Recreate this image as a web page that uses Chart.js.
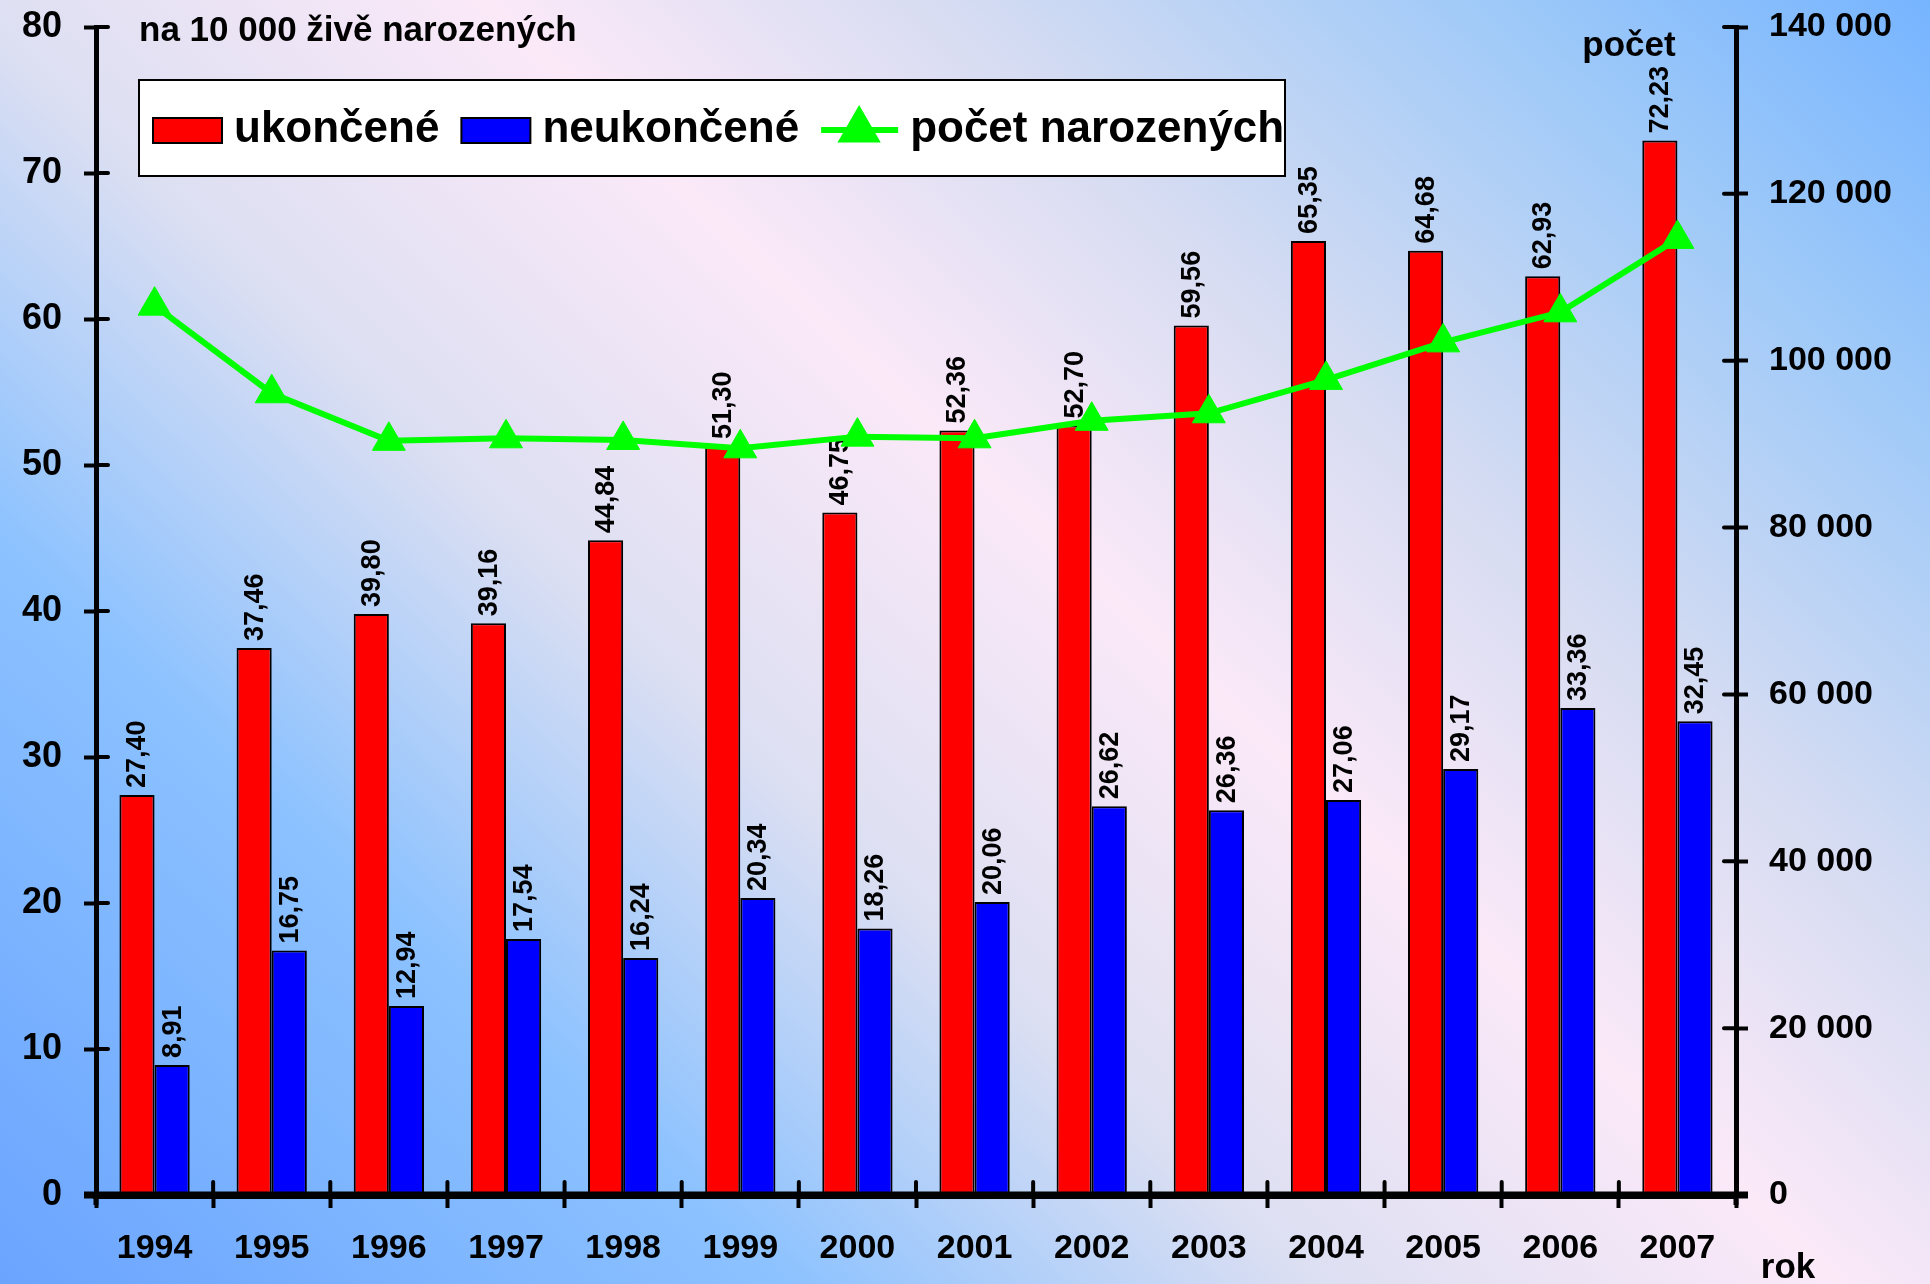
<!DOCTYPE html>
<html>
<head>
<meta charset="utf-8">
<script src="https://cdn.jsdelivr.net/npm/chart.js@4.4.0/dist/chart.umd.min.js"></script>
<style>
html,body{margin:0;padding:0;background:#fff;}
canvas{display:block;}
</style>
</head>
<body>
<canvas id="c" width="1930" height="1284"></canvas>
<script>
// ---- data ----
const years = ['1994','1995','1996','1997','1998','1999','2000','2001','2002','2003','2004','2005','2006','2007'];
const ukoncene = [27.40,37.46,39.80,39.16,44.84,51.30,46.75,52.36,52.70,59.56,65.35,64.68,62.93,72.23];
const neukoncene = [8.91,16.75,12.94,17.54,16.24,20.34,18.26,20.06,26.62,26.36,27.06,29.17,33.36,32.45];
const pocetNarozenych = [106600,96100,90400,90700,90500,89500,90900,90700,92800,93700,97700,102200,105800,114600];
const seriesLabels = ['ukončené','neukončené','počet narozených'];
const leftAxisMax = 80, leftAxisStep = 10;
const rightAxisMax = 140000, rightAxisStep = 20000;
const leftAxisTitle = 'na 10 000 živě narozených';
const rightAxisTitle = 'počet';
const xAxisTitle = 'rok';

const FONT = '"Liberation Sans", Arial, sans-serif';
Chart.defaults.font.family = FONT;
Chart.defaults.color = '#000';

const fmtThousands = v => String(v).replace(/\B(?=(\d{3})+(?!\d))/g, ' ');
const fmtDec = v => v.toFixed(2).replace('.', ',');

const bgPlugin = {
  id: 'bg',
  beforeDraw(chart) {
    const ctx = chart.ctx, W = chart.width, H = chart.height;
    const g = ctx.createLinearGradient(295, 1564, 1850, -77);
    g.addColorStop(0.00, '#6aa4ff');
    g.addColorStop(0.24, '#8cc2ff');
    g.addColorStop(0.40, '#dcdff2');
    g.addColorStop(0.56, '#fbe9f8');
    g.addColorStop(0.70, '#d6dcf2');
    g.addColorStop(0.86, '#a0caf8');
    g.addColorStop(1.00, '#76b4ff');
    ctx.save();
    ctx.fillStyle = g;
    ctx.fillRect(0, 0, W, H);
    ctx.restore();
  }
};

const labelPlugin = {
  id: 'barLabels',
  afterDatasetDraw(chart, args) {
    const ds = chart.data.datasets[args.index];
    if (ds.type !== 'bar') return;
    const ctx = chart.ctx;
    ctx.save();
    ctx.font = 'bold 27px ' + FONT;
    ctx.fillStyle = '#000';
    ctx.textAlign = 'left';
    ctx.textBaseline = 'middle';
    args.meta.data.forEach((el, i) => {
      ctx.save();
      ctx.translate(el.x, el.y - 7);
      ctx.rotate(-Math.PI / 2);
      ctx.fillText(fmtDec(ds.data[i]), 0, 1);
      ctx.restore();
    });
    ctx.restore();
  }
};

const decorPlugin = {
  id: 'decor',
  afterDraw(chart) {
    const ctx = chart.ctx, ca = chart.chartArea;
    const xs = chart.scales.x, yl = chart.scales.y, yr = chart.scales.y1;
    ctx.save();
    ctx.strokeStyle = '#000';
    ctx.lineCap = 'round';
    // inner halves of the ticks
    ctx.lineWidth = 4;
    yl.ticks.forEach(t => {
      const py = yl.getPixelForValue(t.value);
      ctx.beginPath(); ctx.moveTo(ca.left, py); ctx.lineTo(ca.left + 12, py); ctx.stroke();
    });
    yr.ticks.forEach(t => {
      const py = yr.getPixelForValue(t.value);
      ctx.beginPath(); ctx.moveTo(ca.right - 12, py); ctx.lineTo(ca.right, py); ctx.stroke();
    });
    const n = xs.ticks.length, w = (xs.right - xs.left) / n;
    for (let k = 0; k <= n; k++) {
      const px = xs.left + k * w;
      ctx.beginPath(); ctx.moveTo(px, ca.bottom - 13); ctx.lineTo(px, ca.bottom); ctx.stroke();
    }
    // axis line extensions
    ctx.lineCap = 'butt';
    ctx.lineWidth = 7;
    ctx.beginPath(); ctx.moveTo(ca.left - 12, ca.bottom); ctx.lineTo(ca.right + 12, ca.bottom); ctx.stroke();
    ctx.lineWidth = 5;
    ctx.beginPath(); ctx.moveTo(ca.left, ca.bottom); ctx.lineTo(ca.left, ca.bottom + 10); ctx.stroke();
    ctx.beginPath(); ctx.moveTo(ca.right, ca.bottom); ctx.lineTo(ca.right, ca.bottom + 10); ctx.stroke();

    // axis titles
    ctx.fillStyle = '#000';
    ctx.textBaseline = 'middle';
    ctx.font = 'bold 35px ' + FONT;
    ctx.textAlign = 'left';
    ctx.fillText(leftAxisTitle, 139, 31);
    ctx.textAlign = 'center';
    ctx.fillText(rightAxisTitle, 1629, 46);
    ctx.fillText(xAxisTitle, 1788, 1268);

    // legend
    const box = {x: 139, y: 80, w: 1146, h: 96};
    ctx.fillStyle = '#fff';
    ctx.fillRect(box.x, box.y, box.w, box.h);
    ctx.lineWidth = 2;
    ctx.strokeStyle = '#000';
    ctx.strokeRect(box.x, box.y, box.w, box.h);
    ctx.font = 'bold 44px ' + FONT;
    ctx.textAlign = 'left';
    const cy = box.y + box.h / 2 + 2;
    let x = box.x + 14;
    chart.data.datasets.forEach(ds => {
      if (ds.type === 'line') {
        ctx.strokeStyle = ds.borderColor;
        ctx.lineWidth = 6;
        ctx.beginPath(); ctx.moveTo(x, cy); ctx.lineTo(x + 77, cy); ctx.stroke();
        ctx.fillStyle = ds.pointBackgroundColor;
        ctx.strokeStyle = ds.pointBackgroundColor;
        Chart.helpers.drawPoint(ctx, {pointStyle: 'triangle', radius: 19, borderWidth: 1, rotation: 0}, x + 38, cy);
        x += 77;
      } else {
        ctx.fillStyle = ds.backgroundColor;
        ctx.fillRect(x, cy - 12, 69, 25);
        ctx.strokeStyle = '#000';
        ctx.lineWidth = 2;
        ctx.strokeRect(x, cy - 12, 69, 25);
        x += 69;
      }
      x += 12;
      ctx.fillStyle = '#000';
      ctx.fillText(ds.label, x, cy);
      x += ctx.measureText(ds.label).width + 22;
    });
    ctx.restore();
  }
};

const noPad = s => { s.paddingTop = 0; s.paddingBottom = 0; };

new Chart(document.getElementById('c'), {
  data: {
    labels: years,
    datasets: [
      {
        type: 'bar', label: seriesLabels[0], data: ukoncene, yAxisID: 'y', order: 1,
        backgroundColor: '#ff0000', borderColor: '#000', borderWidth: 2,
        categoryPercentage: 0.6, barPercentage: 1.0
      },
      {
        type: 'bar', label: seriesLabels[1], data: neukoncene, yAxisID: 'y', order: 1,
        backgroundColor: '#0000ff', borderColor: '#000', borderWidth: 2,
        categoryPercentage: 0.6, barPercentage: 1.0
      },
      {
        type: 'line', label: seriesLabels[2], data: pocetNarozenych, yAxisID: 'y1', order: 0,
        borderColor: '#00ff00', backgroundColor: '#00ff00', borderWidth: 6,
        pointStyle: 'triangle', pointRadius: 19, pointBackgroundColor: '#00ff00',
        pointBorderColor: '#00ff00', pointBorderWidth: 1, tension: 0
      }
    ]
  },
  options: {
    responsive: false,
    devicePixelRatio: 1,
    animation: false,
    layout: {padding: {top: 27, left: 0, right: 0, bottom: 0}},
    plugins: {legend: {display: false}, tooltip: {enabled: false}, title: {display: false}},
    scales: {
      x: {
        grid: {display: true, drawOnChartArea: false, drawTicks: true, offset: true, tickLength: 13, tickWidth: 4, tickColor: '#000'},
        border: {display: true, color: '#000', width: 7},
        ticks: {font: {size: 34, weight: 'bold'}, color: '#000', padding: 20, maxRotation: 0, autoSkip: false},
        afterFit(s) { s.height = 89; }
      },
      y: {
        position: 'left', min: 0, max: leftAxisMax,
        grid: {drawOnChartArea: false, drawTicks: true, tickLength: 12, tickWidth: 4, tickColor: '#000'},
        border: {display: true, color: '#000', width: 5},
        ticks: {stepSize: leftAxisStep, font: {size: 36, weight: 'bold'}, color: '#000', padding: 22},
        afterFit(s) { s.width = 96; noPad(s); }
      },
      y1: {
        position: 'right', min: 0, max: rightAxisMax,
        grid: {drawOnChartArea: false, drawTicks: true, tickLength: 12, tickWidth: 4, tickColor: '#000'},
        border: {display: true, color: '#000', width: 5},
        ticks: {stepSize: rightAxisStep, font: {size: 34, weight: 'bold'}, color: '#000', padding: 21,
                callback: v => fmtThousands(v)},
        afterFit(s) { s.width = 194; noPad(s); }
      }
    }
  },
  plugins: [bgPlugin, labelPlugin, decorPlugin]
});
</script>
</body>
</html>
